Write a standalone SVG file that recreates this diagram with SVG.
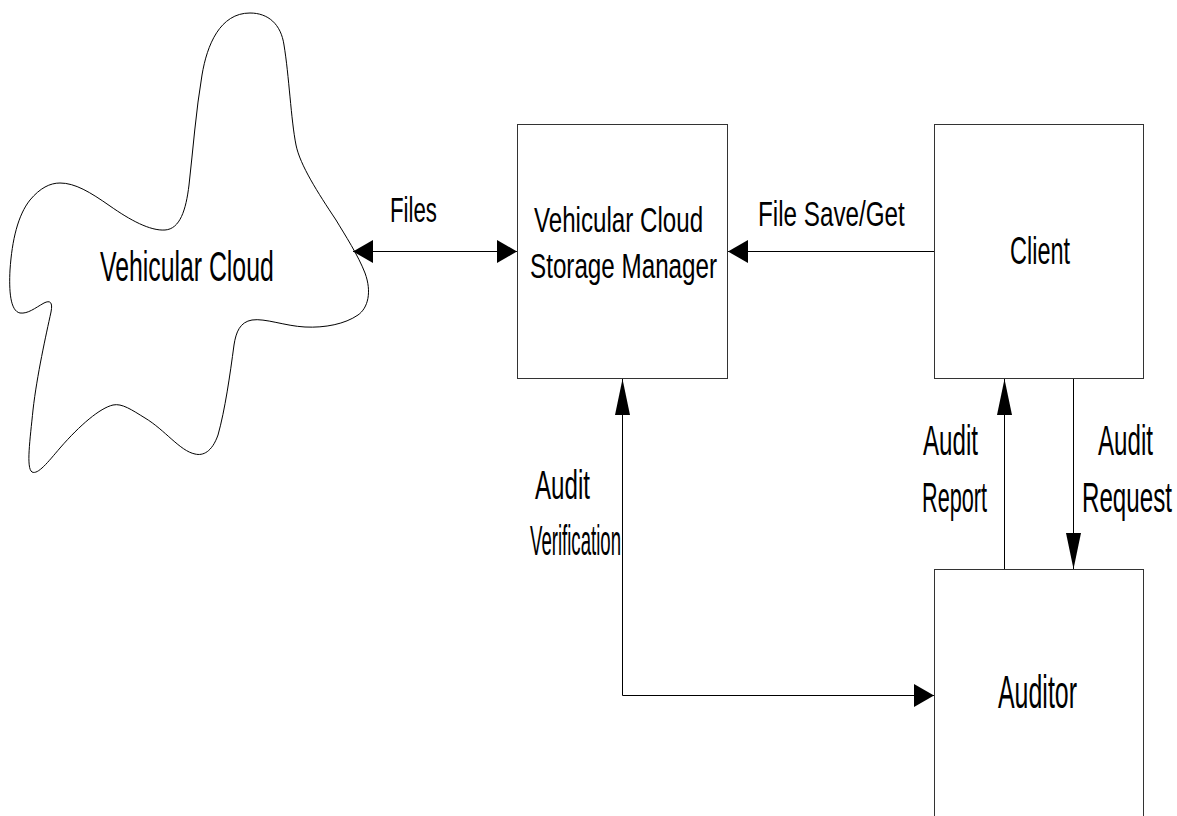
<svg xmlns="http://www.w3.org/2000/svg" width="1177" height="816" viewBox="0 0 1177 816">
  <style>
    .box { fill: #ffffff; stroke: #333333; stroke-width: 1; }
    .cloud { fill: #ffffff; stroke: #000000; stroke-width: 1; }
    .wire { fill: none; stroke: #000000; stroke-width: 1; }
    .lbl { font-family: "Liberation Sans", Arial, sans-serif; fill: #000000; }
  </style>
  <defs>
    <!-- horizontal arrowhead -->
    <marker id="ah" viewBox="0 0 20 23" refX="20" refY="11.5" markerWidth="20" markerHeight="23" markerUnits="userSpaceOnUse" orient="auto-start-reverse">
      <path d="M0,0 L20,11.5 L0,23 Z" fill="#000000"/>
    </marker>
    <!-- vertical arrowhead (longer, narrower) -->
    <marker id="av" viewBox="0 0 36 15" refX="36" refY="7.5" markerWidth="36" markerHeight="15" markerUnits="userSpaceOnUse" orient="auto-start-reverse">
      <path d="M0,0 L36,7.5 L0,15 Z" fill="#000000"/>
    </marker>
  </defs>

  <rect width="1177" height="816" fill="#ffffff"/>

  <g id="vehicular-cloud">
    <path class="cloud" d="M250,13 C268,13 281,24 284,45 C289,75 291,120 296,145 C300,165 318,193 336,220 C345,235 358,255 365,273 C372,292 368,308 358,315 C345,324 325,328 305,327 C285,326 265,318 252,320 C240,322 236,332 234,345 C230,375 225,410 218,435 C212,452 203,456 195,454 C180,451 165,430 145,418 C132,410 122,403 113,405 C100,408 80,425 60,448 C48,462 38,475 32,472 C26,468 30,440 33,410 C37,375 46,335 51,312 C53,302 50,300 44,303 C35,308 28,314 20,313 C10,311 9,290 10,270 C12,240 18,215 30,200 C40,188 50,183 60,183 C75,183 90,192 110,206 C130,220 150,231 165,230 C180,229 186,210 189,185 C193,150 196,110 202,75 C207,45 220,13 250,13 Z"/>
    <text class="lbl" transform="matrix(0.577 0 0 1 100 281)" font-size="43">Vehicular Cloud</text>
  </g>

  <g id="storage-manager">
    <rect class="box" x="517.5" y="124.5" width="210" height="254"/>
    <text class="lbl" transform="matrix(0.700 0 0 1 534 232)" font-size="34.5">Vehicular Cloud</text>
    <text class="lbl" transform="matrix(0.702 0 0 1 530 278)" font-size="34.5">Storage Manager</text>
  </g>

  <g id="client">
    <rect class="box" x="934.5" y="124.5" width="209" height="254"/>
    <text class="lbl" transform="matrix(0.610 0 0 1 1010 264)" font-size="38.5">Client</text>
  </g>

  <g id="auditor">
    <rect class="box" x="934.5" y="569.5" width="209" height="262"/>
    <text class="lbl" transform="matrix(0.542 0 0 1 998 708)" font-size="46">Auditor</text>
  </g>

  <g id="connectors">
    <!-- Files: cloud <-> storage manager -->
    <line class="wire" x1="353" y1="251.5" x2="517" y2="251.5" marker-start="url(#ah)" marker-end="url(#ah)"/>
    <!-- File Save/Get: client -> storage manager -->
    <line class="wire" x1="934" y1="251.5" x2="728" y2="251.5" marker-end="url(#ah)"/>
    <!-- Audit Verification: auditor <-> storage manager -->
    <path class="wire" d="M934,695.5 H622.5 V379" marker-start="url(#ah)" marker-end="url(#av)"/>
    <!-- Audit Report: auditor -> client -->
    <line class="wire" x1="1004.5" y1="569" x2="1004.5" y2="379" marker-end="url(#av)"/>
    <!-- Audit Request: client -> auditor -->
    <line class="wire" x1="1073.5" y1="379" x2="1073.5" y2="569" marker-end="url(#av)"/>
  </g>

  <g id="connector-labels">
    <text class="lbl" transform="matrix(0.636 0 0 1 390 222)" font-size="35">Files</text>
    <text class="lbl" transform="matrix(0.673 0 0 1 758 226)" font-size="36">File Save/Get</text>
    <text class="lbl" transform="matrix(0.603 0 0 1 535 499)" font-size="40">Audit</text>
    <text class="lbl" transform="matrix(0.443 0 0 1 530 555)" font-size="42">Verification</text>
    <text class="lbl" transform="matrix(0.575 0 0 1 923 455)" font-size="42">Audit</text>
    <text class="lbl" transform="matrix(0.516 0 0 1 922 512)" font-size="42">Report</text>
    <text class="lbl" transform="matrix(0.575 0 0 1 1098 455)" font-size="42">Audit</text>
    <text class="lbl" transform="matrix(0.575 0 0 1 1082 512)" font-size="42">Request</text>
  </g>
</svg>
